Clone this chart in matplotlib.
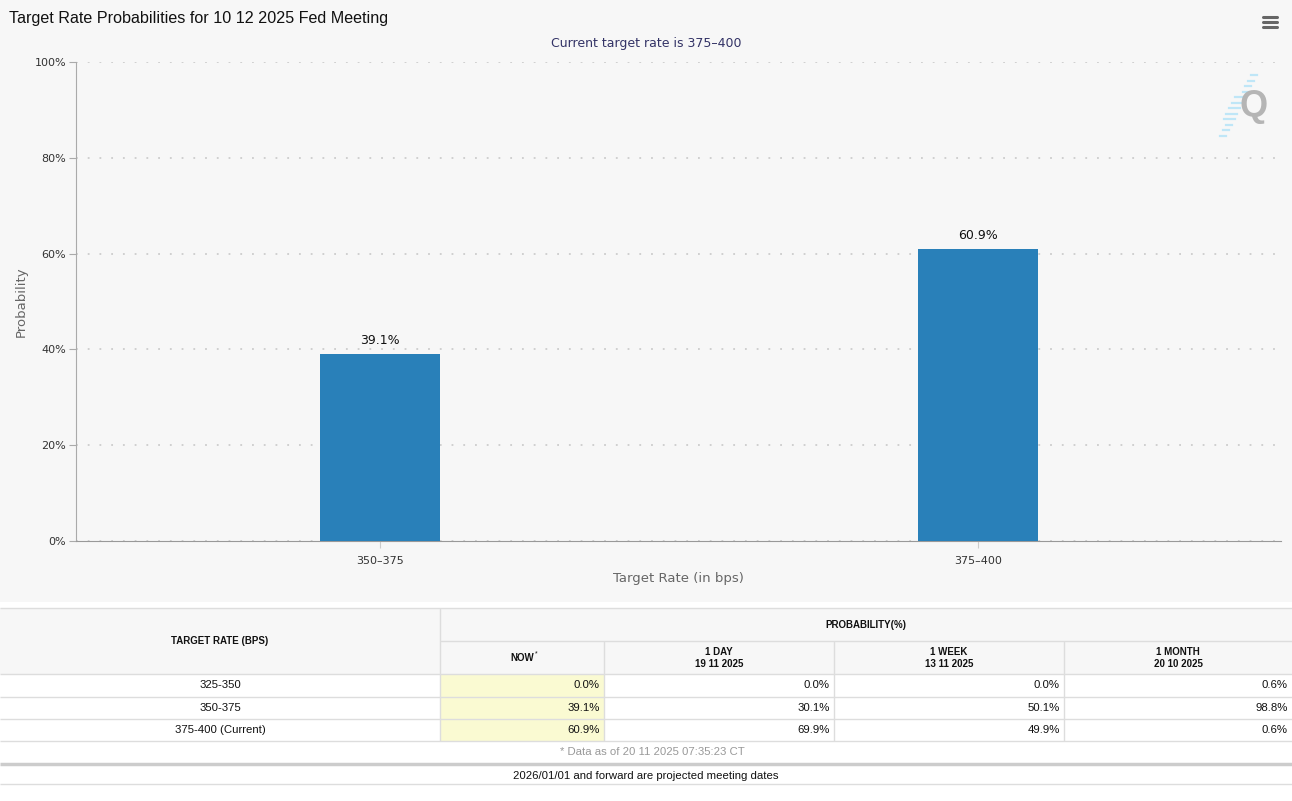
import matplotlib.pyplot as plt
from matplotlib.patches import Rectangle

# chart data
categories = ['350\u2013375', '375\u2013400']
probabilities = [39.1, 60.9]
current_rate = '375\u2013400'

# table data
rate_bins = ['325-350', '350-375', '375-400 (Current)']
now_vals = [0.0, 39.1, 60.9]
day_vals = [0.0, 30.1, 69.9]
week_vals = [0.0, 50.1, 49.9]
month_vals = [0.6, 98.8, 0.6]
col_heads = ['NOW', '1 DAY\n19 11 2025', '1 WEEK\n13 11 2025', '1 MONTH\n20 10 2025']
data_stamp = '* Data as of 20 11 2025 07:35:23 CT'

W, H = 1292, 801
fig = plt.figure(figsize=(W / 100, H / 100), dpi=100)
fig.patch.set_facecolor('white')

# background / table canvas in pixel coords
bg = fig.add_axes([0, 0, 1, 1], zorder=0)
bg.set_xlim(0, W)
bg.set_ylim(H, 0)
bg.axis('off')
bg.add_patch(Rectangle((0, 0), W, 602, color='#f7f7f7', lw=0))

sans = ['Liberation Sans', 'DejaVu Sans']
narrow = ['Liberation Sans Narrow', 'Liberation Sans', 'DejaVu Sans']
bg.text(9, 19, 'Target Rate Probabilities for 10 12 2025 Fed Meeting',
        fontsize=11.6, family=sans, color='#111111', va='center', ha='left')
bg.text(646, 43, f'Current target rate is {current_rate}', fontsize=9,
        color='#333366', va='center', ha='center')

# menu icon
for yy in (17, 22, 27):
    bg.plot([1263, 1277], [yy, yy], color='#666666', lw=2.2, solid_capstyle='round')
# logo
for i in range(12):
    yy = 75 + i * 5.5
    x1 = 1257 - i * 2.8
    bg.plot([x1 - 6 - (5 if 3 < i < 9 else 0), x1], [yy, yy], color='#bfe6f7', lw=1.6)
bg.text(1254, 107, 'Q', fontsize=26, fontweight='bold', color='#b5b5b5',
        ha='center', va='center', family=sans)

# main chart
ax = fig.add_axes([76 / W, 1 - 541 / H, 1205 / W, (541 - 62) / H], zorder=2)
ax.set_facecolor('none')
xs = range(len(categories))
bars = ax.bar(xs, probabilities, width=0.2, color='#2980b9', zorder=3)
for bar, v in zip(bars, probabilities):
    ax.annotate(f'{v}%', (bar.get_x() + bar.get_width() / 2, v),
                xytext=(0, 5), textcoords='offset points',
                ha='center', va='bottom', fontsize=9, color='#111111')
ax.set_xlim(-0.508, len(categories) - 0.493)
ax.set_ylim(0, 100)
ax.set_yticks(range(0, 101, 20))
ax.set_yticklabels([f'{v}%' for v in range(0, 101, 20)], fontsize=8, color='#333333')
ax.set_xticks(list(xs))
ax.set_xticklabels(categories, fontsize=8, color='#333333')
ax.tick_params(axis='y', length=5, color='#aaaaaa', pad=2)
ax.tick_params(axis='x', length=5, color='#cccccc', pad=6)
ax.grid(axis='y', color='#cccccc', linestyle=(0, (1, 5.5)), lw=1.3, zorder=1)
for s in ('top', 'right'):
    ax.spines[s].set_visible(False)
ax.spines['left'].set_color('#aaaaaa')
ax.spines['bottom'].set_color('#999999')
ax.set_xlabel('Target Rate (in bps)', fontsize=9.5, color='#666666', labelpad=4)
ax.set_ylabel('Probability', fontsize=9.5, color='#666666', labelpad=5)

# table
col_edges = [0, 440, 604, 834, 1064, 1292]
row_edges = [674, 697, 719, 741]
line_c = '#dddddd'
bg.add_patch(Rectangle((0, 608), W, 66, color='#f7f7f7', lw=0))
bg.add_patch(Rectangle((440, 674), 164, 67, color='#fafad2', lw=0))
bg.hlines([608], 0, W, color=line_c, lw=1)
bg.hlines([641], 440, W, color=line_c, lw=1)
bg.hlines(row_edges, 0, W, color=line_c, lw=1)
bg.vlines([440], 608, 741, color=line_c, lw=1)
bg.vlines(col_edges[2:-1], 641, 741, color=line_c, lw=1)
bg.hlines([764], 0, W, color='#cccccc', lw=2.5)
bg.hlines([784], 0, W, color=line_c, lw=1)

tf = dict(family=narrow, fontsize=7, fontweight='bold', color='#111111', ha='center', va='center')
bg.text(220, 641, 'TARGET RATE (BPS)', **tf)
bg.text(866, 625, 'PROBABILITY(%)', **tf)
for i, head in enumerate(col_heads):
    cx = (col_edges[i + 1] + col_edges[i + 2]) / 2
    bg.text(cx, 658, head, linespacing=1.25, **tf)
bg.text(536, 654, '*', family=sans, fontsize=5, color='#111111', ha='center', va='center')

cf = dict(family=narrow, fontsize=8.2, color='#111111', va='center')
columns = [now_vals, day_vals, week_vals, month_vals]
for r, name in enumerate(rate_bins):
    cy = (row_edges[r] + row_edges[r + 1]) / 2
    bg.text(220, cy, name, ha='center', **cf)
    for c, vals in enumerate(columns):
        bg.text(col_edges[c + 2] - 4, cy, f'{vals[r]:.1f}%', ha='right', **cf)

bg.text(652, 752, data_stamp, family=narrow, fontsize=8.2, color='#999999', ha='center', va='center')
bg.text(646, 776, '2026/01/01 and forward are projected meeting dates',
        family=narrow, fontsize=8.2, color='#111111', ha='center', va='center')

fig.savefig('out.png', dpi=100)
